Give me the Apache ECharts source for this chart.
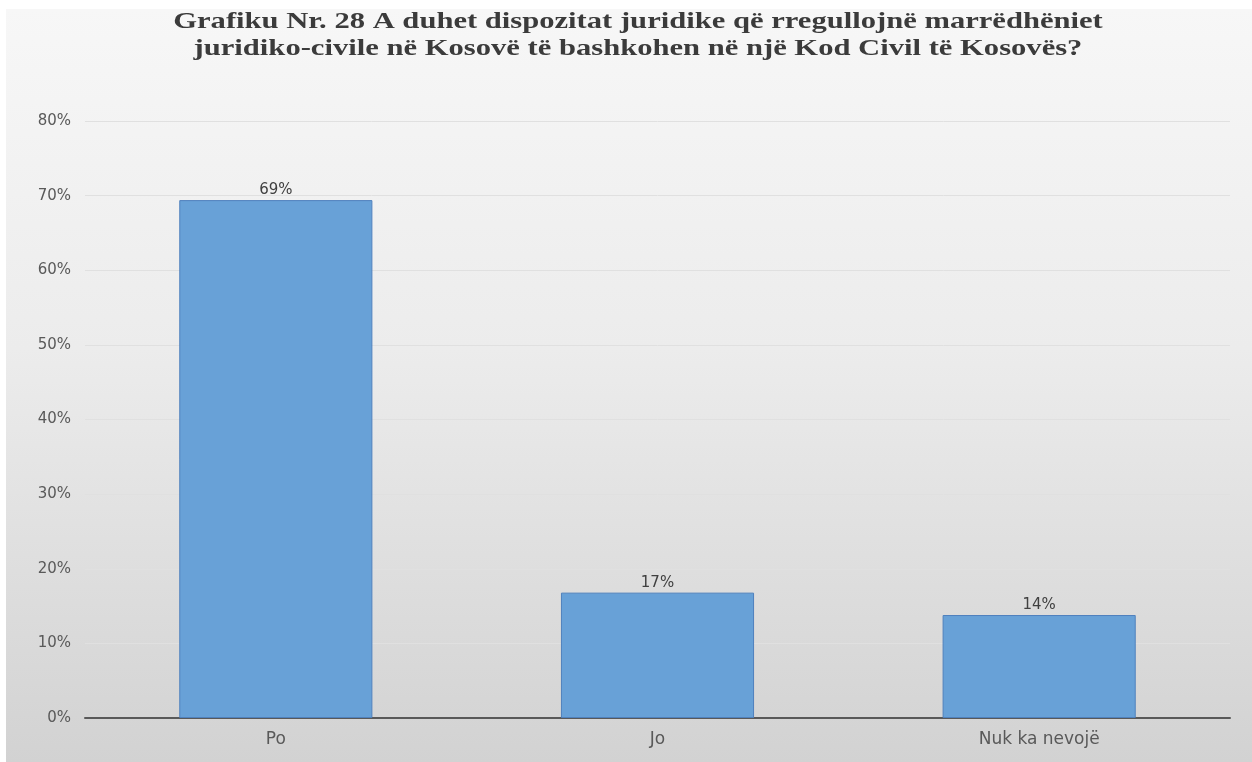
<!DOCTYPE html>
<html>
<head>
<meta charset="utf-8">
<script src="https://cdn.jsdelivr.net/npm/echarts@6/dist/echarts.min.js"></script>
<style>
  html, body { margin: 0; padding: 0; background: #ffffff; width: 1252px; height: 762px; overflow: hidden; }
  #chart { position: absolute; left: 6px; top: 9px; width: 1246px; height: 753px;
    background: linear-gradient(to bottom, #f7f7f7 0%, #ececec 45%, #d2d2d2 100%); }
</style>
</head>
<body>
<div id="chart"></div>
<script>
const titleText = "Grafiku Nr. 28 A duhet dispozitat juridike që rregullojnë marrëdhëniet\njuridiko-civile në Kosovë të bashkohen në një Kod Civil të Kosovës?";
const categories = ["Po", "Jo", "Nuk ka nevojë"];
const values = [69.4, 16.8, 13.8];
const yMin = 0, yMax = 80, yInterval = 10;

const chart = echarts.init(document.getElementById('chart'), null, { renderer: 'canvas' });
chart.setOption({
  backgroundColor: 'transparent',
  animation: false,
  graphic: [{
    type: 'text',
    x: 632,
    y: 0,
    scaleX: 1.33,
    scaleY: 1,
    silent: true,
    style: {
      text: titleText,
      font: 'bold 23px "Liberation Serif", "Times New Roman", serif',
      fill: '#3b3b3b',
      textAlign: 'center',
      textVerticalAlign: 'top',
      lineHeight: 27
    }
  }],
  grid: { left: 79, right: 22, top: 112, bottom: 44, containLabel: false },
  xAxis: {
    type: 'category',
    data: categories,
    axisLine: { show: true, lineStyle: { color: '#595959', width: 2 } },
    axisTick: { show: false },
    axisLabel: { color: '#595959', fontSize: 17, fontFamily: 'DejaVu Sans, sans-serif', margin: 13 }
  },
  yAxis: {
    type: 'value',
    min: yMin, max: yMax, interval: yInterval,
    axisLine: { show: false },
    axisTick: { show: false },
    splitLine: { lineStyle: { color: '#e0e0e0', width: 1 } },
    axisLabel: { color: '#595959', fontSize: 15, fontFamily: 'DejaVu Sans, sans-serif', margin: 14,
      formatter: v => v + '%' }
  },
  series: [{
    type: 'bar',
    data: values,
    barWidth: '50.6%',
    itemStyle: { color: '#68a1d7', borderColor: '#4f81bd', borderWidth: 1 },
    label: { show: true, position: 'top', distance: 2, color: '#404040', fontSize: 15,
      fontFamily: 'DejaVu Sans, sans-serif', formatter: p => Math.round(p.value) + '%' }
  }]
});
</script>
</body>
</html>
